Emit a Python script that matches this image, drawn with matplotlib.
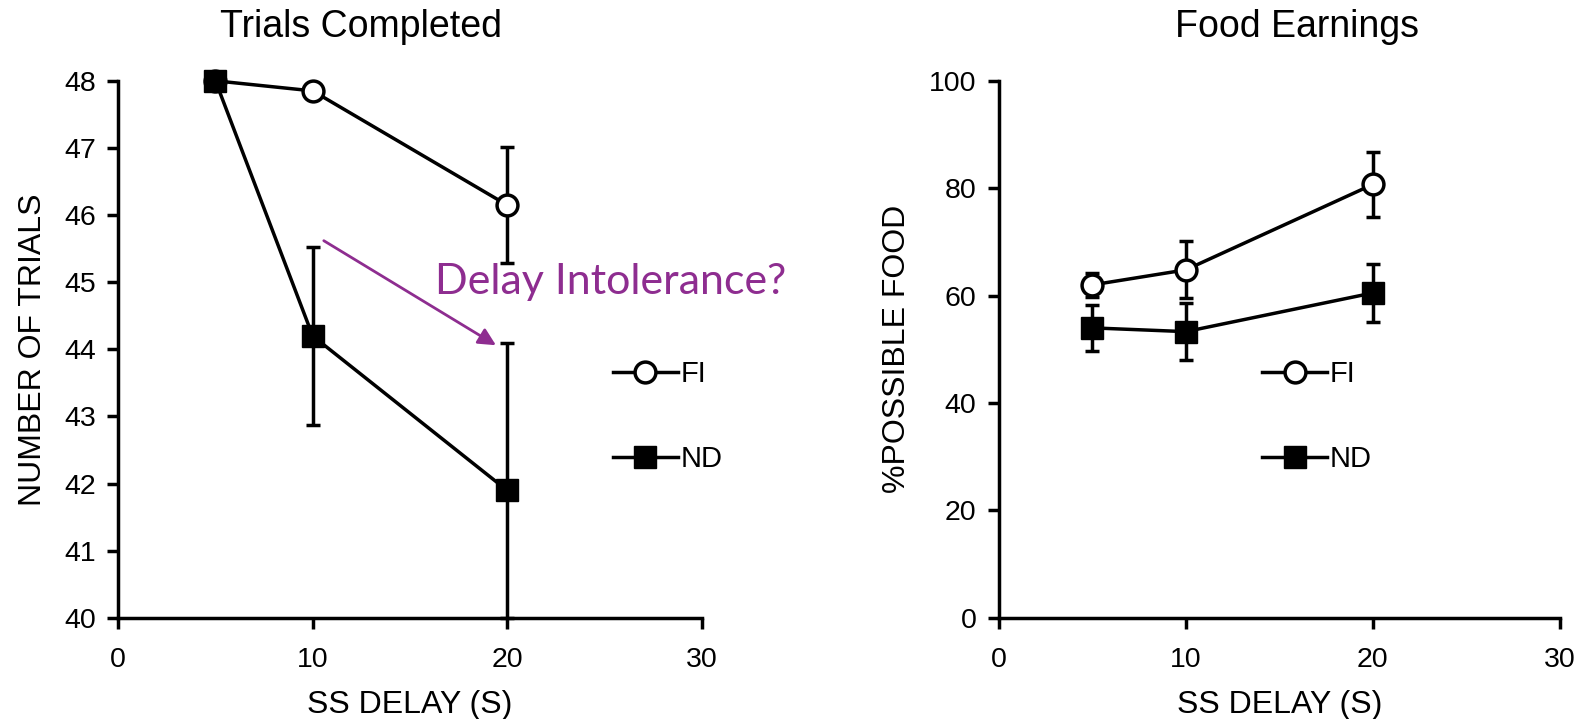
import matplotlib
matplotlib.use("Agg")
from matplotlib import pyplot as plt
from matplotlib.lines import Line2D

plt.rcParams['font.family'] = ['Liberation Sans', 'DejaVu Sans']

delay = [5, 10, 20]

# Trials Completed
fi_trials = [48.0, 47.85, 46.15]
fi_trials_err = [0.0, 0.1, 0.87]
nd_trials = [48.0, 44.2, 41.9]
nd_trials_err_lo = [0.0, 1.33, 1.9]
nd_trials_err_hi = [0.0, 1.33, 2.2]

# Food Earnings
fi_food = [62.0, 64.8, 80.7]
fi_food_err = [2.3, 5.3, 6.0]
nd_food = [54.0, 53.3, 60.5]
nd_food_err = [4.3, 5.3, 5.4]

purple = '#8E2D90'

fig = plt.figure(figsize=(15.85, 7.19), dpi=100)
ax1 = fig.add_axes([0.0746, 0.1406, 0.368, 0.747])
ax2 = fig.add_axes([0.6301, 0.1406, 0.354, 0.747])

LW = 2.5


def draw(ax, fi, fi_err, nd, nd_err):
    ax.errorbar(delay, fi, yerr=fi_err, color='black', lw=LW, marker='o', ms=15,
                mfc='white', mec='black', mew=LW, capsize=5, capthick=LW, elinewidth=LW,
                zorder=3, clip_on=False)
    ax.errorbar(delay, nd, yerr=nd_err, color='black', lw=LW, marker='s', ms=16,
                mfc='black', mec='black', capsize=5, capthick=LW, elinewidth=LW,
                zorder=4, clip_on=False)
    for s in ['top', 'right']:
        ax.spines[s].set_visible(False)
    for s in ['left', 'bottom']:
        ax.spines[s].set_linewidth(LW)
    ax.tick_params(width=LW, length=8, labelsize=20.5, pad=8)
    ax.tick_params(axis='x', pad=13)
    ax.set_xlim(0, 30)
    ax.set_xticks([0, 10, 20, 30])
    ax.set_xlabel('SS DELAY (S)', fontsize=23, labelpad=12)


draw(ax1, fi_trials, fi_trials_err, nd_trials, [nd_trials_err_lo, nd_trials_err_hi])
ax1.set_ylim(40, 48)
ax1.set_yticks(range(40, 49))
ax1.set_ylabel('NUMBER OF TRIALS', fontsize=23, labelpad=12)

draw(ax2, fi_food, fi_food_err, nd_food, nd_food_err)
ax2.set_ylim(0, 100)
ax2.set_yticks(range(0, 101, 20))
ax2.set_ylabel('%POSSIBLE FOOD', fontsize=23, labelpad=12)

fig.text(0.2277, 0.962, 'Trials Completed', ha='center', va='center', fontsize=27)
fig.text(0.818, 0.962, 'Food Earnings', ha='center', va='center', fontsize=27)

ax1.annotate('', xy=(19.55, 44.04), xytext=(10.45, 45.64),
             arrowprops=dict(arrowstyle='-|>', color=purple, lw=2, mutation_scale=26))
ax1.text(16.3, 45.0, 'Delay Intolerance?', color=purple, fontsize=31,
         family=['Lato', 'DejaVu Sans'], ha='left', va='center', clip_on=False)

handles = [
    Line2D([], [], color='black', lw=LW, marker='o', ms=15, mfc='white', mec='black', mew=LW),
    Line2D([], [], color='black', lw=LW, marker='s', ms=16, mfc='black', mec='black'),
]
for x in [0.387, 0.7965]:
    fig.legend(handles, ['FI', 'ND'], loc='center left', bbox_to_anchor=(x, 0.421),
               frameon=False, fontsize=21, handlelength=2.2, handletextpad=0.12,
               labelspacing=1.95, borderpad=0, borderaxespad=0)

fig.savefig('out.png', dpi=100)
